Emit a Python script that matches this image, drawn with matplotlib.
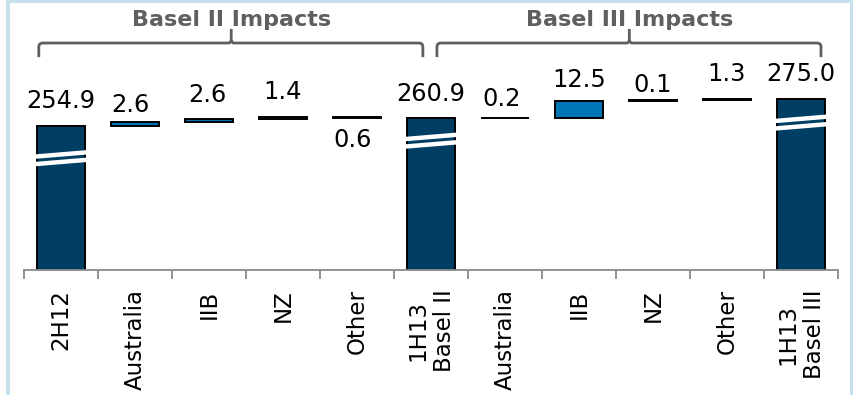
import matplotlib
matplotlib.use('Agg')
import matplotlib.pyplot as plt
import numpy as np
from matplotlib.path import Path
from matplotlib.patches import PathPatch, Rectangle

# chart data
categories = ['2H12', 'Australia', 'IIB', 'NZ', 'Other', '1H13\nBasel II',
              'Australia', 'IIB', 'NZ', 'Other', '1H13\nBasel III']
values = [254.9, 2.6, 2.6, 1.4, -0.6, 260.9, 0.2, 12.5, 0.1, 1.3, 275.0]
is_total = [True, False, False, False, False, True,
            False, False, False, False, True]
value_labels = ['254.9', '2.6', '2.6', '1.4', '0.6', '260.9',
                '0.2', '12.5', '0.1', '1.3', '275.0']
groups = ['Basel II Impacts', 'Basel III Impacts']

# styling
dark = '#003E63'
blue = '#0075B5'
grey = '#5f5f5f'
lab_dx = [0, -5, -2, 0, -4, 0, -3, 0, 0, 0, 0]          # pixels
lab_dy = [17.7, 10.3, 17.3, 18, -29, 17.3, 12, 14, 8, 18, 18]
break_at = {0: 231.2, 5: 244.1, 10: 257.4}
bar_w = 0.66

fig = plt.figure(figsize=(8.54, 3.95), dpi=100)
W, H = 854, 395
ax = fig.add_axes([24 / W, 1 - 270 / H, (838 - 24) / W, 260 / H])
ymin = 149.0
ax.set_ylim(ymin, ymin + 260 / 1.36)
ax.set_xlim(-0.5, 10.5)

# waterfall bars
x = np.arange(len(values))
bottoms, heights = [], []
running = 0
for v, tot in zip(values, is_total):
    if tot:
        bottoms.append(0)
        heights.append(v)
        running = v
    else:
        bottoms.append(running)
        heights.append(v)
        running += v
colors = [dark if t else blue for t in is_total]
ax.bar(x, heights, bottom=bottoms, width=bar_w, color=colors,
       edgecolor='black', linewidth=1.4, zorder=2)

# value labels
for i in range(len(values)):
    if heights[i] >= 0:
        ref = bottoms[i] + heights[i]
    else:
        ref = bottoms[i] + heights[i]
    ax.annotate(value_labels[i], (x[i], ref),
                xytext=(lab_dx[i], lab_dy[i]), textcoords='offset pixels',
                ha='center', va='baseline', fontsize=17.4, color='black')

# axis break marks on the total bars
ppu = 1.36
for i, b in break_at.items():
    for k in (-1, 1):
        yc = b + k * 3.75 / ppu
        ax.plot([x[i] - bar_w / 2 - 0.03, x[i] + bar_w / 2 + 0.03],
                [yc - 2.2 / ppu, yc + 2.2 / ppu], color='white', lw=3.2,
                solid_capstyle='butt', zorder=3)

# axes styling
for s in ['left', 'top', 'right']:
    ax.spines[s].set_visible(False)
ax.spines['bottom'].set_color('#8a8a8a')
ax.spines['bottom'].set_linewidth(1.3)
ax.set_yticks([])
ax.set_xticks(x)
ax.set_xticklabels(categories, rotation=90, fontsize=16.5, ha='center',
                   va='top', multialignment='center')
ax.set_xticks(np.arange(-0.5, 11, 1), minor=True)
ax.tick_params(axis='x', which='major', length=0, pad=14)
ax.tick_params(axis='x', which='minor', length=6.5, width=1.3, color='#8a8a8a')


def bracket(x0, x1, xm, label):
    ye, yh, yp = 0.819, 0.873, 0.927
    rx, ry = 4 / 74, 4 / 260
    sx, sy = 3 / 74, 3 / 260
    verts = [(x0, ye), (x0, yh - ry), (x0, yh), (x0 + rx, yh),
             (xm - sx, yh), (xm, yh), (xm, yh + sy), (xm, yp),
             (xm, yh + sy), (xm, yh), (xm + sx, yh),
             (x1 - rx, yh), (x1, yh), (x1, yh - ry), (x1, ye)]
    codes = [Path.MOVETO, Path.LINETO, Path.CURVE3, Path.CURVE3,
             Path.LINETO, Path.CURVE3, Path.CURVE3, Path.LINETO,
             Path.MOVETO, Path.CURVE3, Path.CURVE3,
             Path.LINETO, Path.CURVE3, Path.CURVE3, Path.LINETO]
    p = PathPatch(Path(verts, codes), transform=ax.get_xaxis_transform(),
                  fill=False, edgecolor=grey, lw=2.0, clip_on=False)
    ax.add_patch(p)
    ax.text(xm, 0.9385, label, transform=ax.get_xaxis_transform(),
            ha='center', va='baseline', fontsize=16, fontweight='bold',
            color=grey)


bracket(-0.3, 4.89, 2.30, groups[0])
bracket(5.08, 10.27, 7.68, groups[1])

# light blue frame
fig.patches.append(Rectangle((8 / W, -0.1), (852 - 8) / W, 1.1 - 1 / H,
                             transform=fig.transFigure, fill=False,
                             edgecolor='#c8e0ee', lw=2.9))

fig.savefig('out.png', dpi=100)
